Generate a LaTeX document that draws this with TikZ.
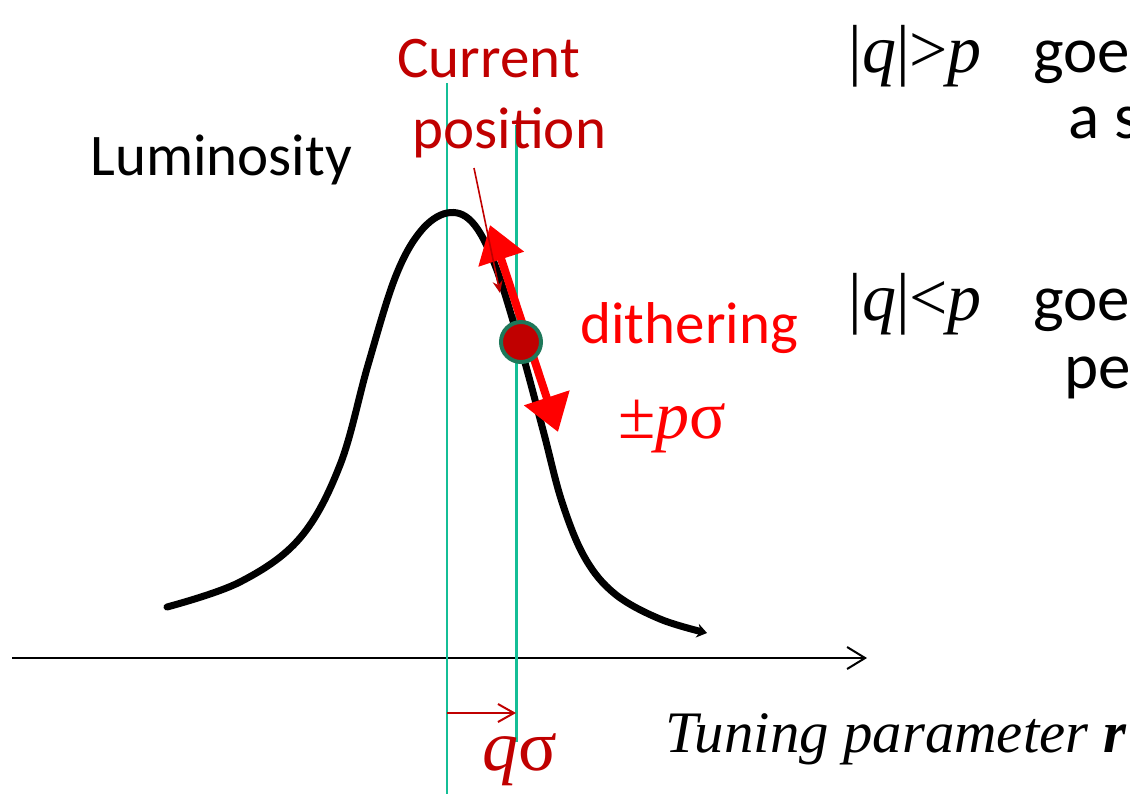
\documentclass[tikz,border=0pt]{standalone}
\usepackage{fontspec}
\setmainfont{Carlito}
\newfontfamily\tms{Liberation Serif}
\usetikzlibrary{arrows.meta}
\definecolor{dred}{RGB}{192,0,0}
\definecolor{guidegreen}{RGB}{20,190,150}
\definecolor{dotrim}{RGB}{30,120,90}
\begin{document}
\begin{tikzpicture}[x=0.5pt,y=-0.5pt,
  sanslbl/.style={font=\fontsize{29.5}{32}\selectfont, inner sep=0pt, anchor=base west},
  sidelbl/.style={font=\fontsize{32.5}{34}\selectfont, inner sep=0pt, anchor=base west},
  mathlbl/.style={font=\fontsize{34}{36}\tms, inner sep=0pt, anchor=base west},
  tuninglbl/.style={font=\fontsize{29.4}{32}\tms, inner sep=0pt, anchor=base west},
  guide/.style={draw=guidegreen},
]
\useasboundingbox (0,0) rectangle (1130,794);
\clip (0,0) rectangle (1130,794);

% axis
\coordinate (ax0) at (12,658);
\coordinate (ax1) at (867,658);
\draw[line width=1pt, -{Straight Barb[length=9pt,width=11pt]}] (ax0) -- (ax1);

% guide lines
\coordinate (g1t) at (447,83);
\coordinate (g1b) at (447,794);
\coordinate (g2t) at (516,125);
\coordinate (g2b) at (516,742);
\draw[guide, line width=0.9pt] (g1t) -- (g1b);
\draw[guide, line width=1.5pt] (g2t) -- (g2b);

% luminosity curve
\draw[line width=3.5pt, line cap=round, -{Stealth[length=5pt,width=7pt]}] plot[smooth, tension=0.6] coordinates {
 (167,607) (240,582) (300,538) (340,465) (368,365) (395,278) (420,232)
 (447,213) (472,222) (495,265) (520,345) (543,430) (562,502) (585,558)
 (615,594) (660,619) (707,633)};

% q sigma offset arrow
\coordinate (qa0) at (447,713);
\coordinate (qa1) at (516,713);
\draw[dred, line width=1pt, -{Straight Barb[length=8pt,width=9pt]}] (qa0) -- (qa1);

% dithering double arrow
\coordinate (d0) at (490,225);
\coordinate (d1) at (558,432);
\draw[red, line width=4pt, {Triangle[length=18pt,width=23pt]}-{Triangle[length=18pt,width=23pt]}] (d0) -- (d1);

% current position dot
\node[circle, fill=dred, draw=dotrim, line width=2pt, minimum size=20pt, inner sep=0pt] (dot) at (521,342) {};

% labels
\node[sanslbl] (lum) at (90,175) {Luminosity};
\node[sanslbl, text=dred] (cur) at (397,77) {Current};
\node[sanslbl, text=dred] (pos) at (412,148) {position};
\node[sanslbl, text=red] (dith) at (580,343) {dithering};
\node[mathlbl, text=red] (pm) at (618,438) {±\textit{p}σ};
\node[mathlbl, text=dred, font=\fontsize{36}{38}\tms] (qs) at (482,770) {\textit{q}σ};
\node[tuninglbl] (tun) at (665,752) {\textit{Tuning parameter \textbf{r}}};

% pointer from label to the point
\coordinate (pt0) at (474,168);
\coordinate (pt1) at (500,293);
\draw[dred, line width=0.8pt, -{Stealth[length=6pt,width=5pt]}] (pt0) -- (pt1);

% right-hand text (cut off at the edge, as in the reference)
\node[mathlbl] (c1) at (848,72) {|\textit{q}|>\textit{p}};
\node[sidelbl] (t1) at (1033,72) {goe};
\node[sidelbl] (t2) at (1068,138) {a s};
\node[mathlbl] (c2) at (848,320) {|\textit{q}|<\textit{p}};
\node[sidelbl] (t3) at (1033,320) {goe};
\node[sidelbl] (t4) at (1064,388) {pe};
\end{tikzpicture}
\end{document}
